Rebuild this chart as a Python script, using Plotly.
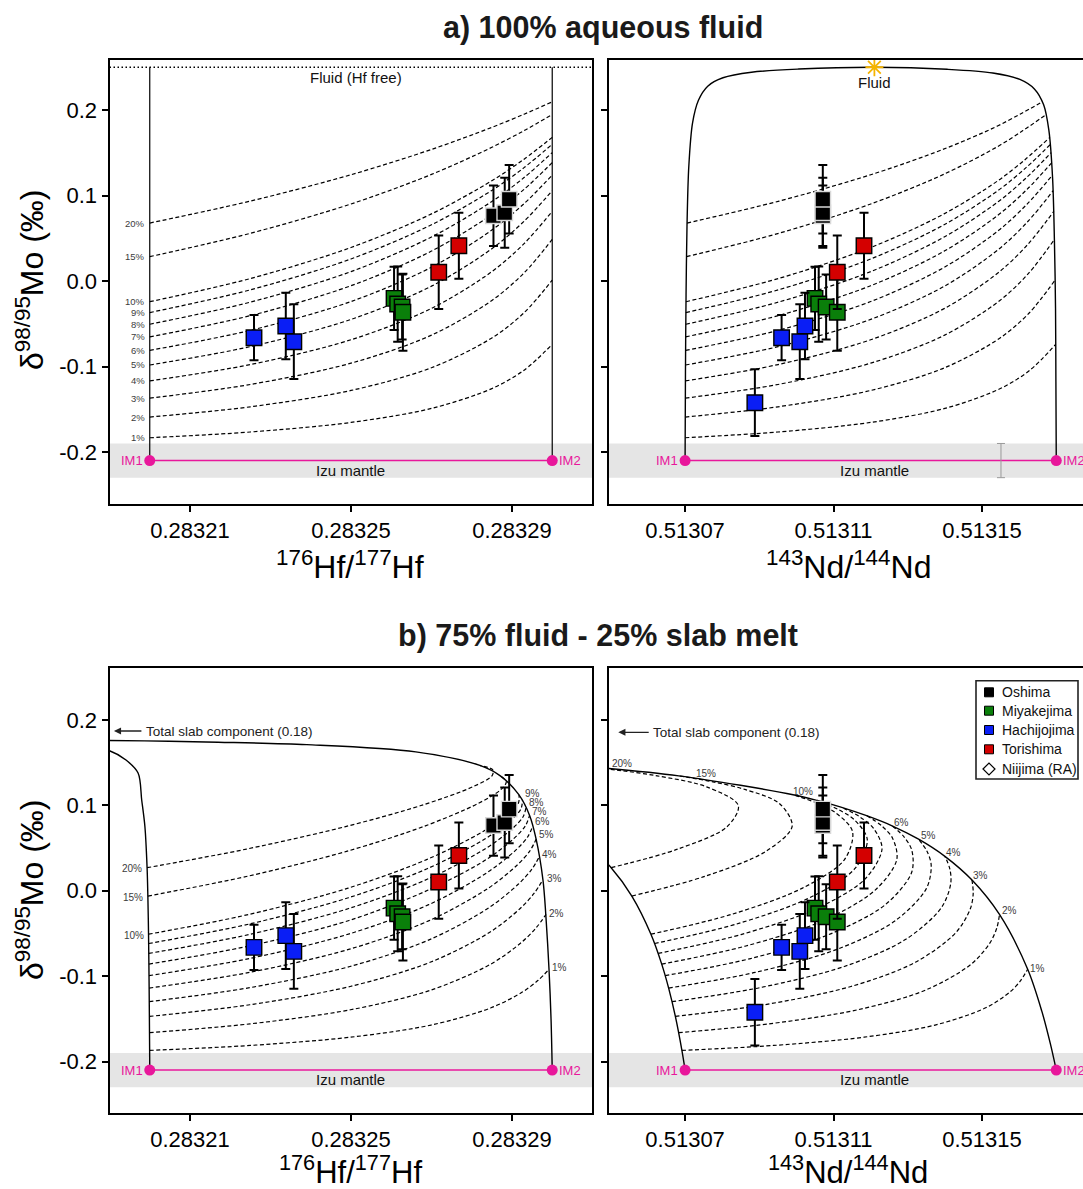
import plotly.graph_objects as go

FONT = "Liberation Sans, Arial, Helvetica, sans-serif"
MAG = "#E8179B"
W, H = 1083, 1189

PCT = ["1%", "2%", "3%", "4%", "5%", "6%", "7%", "8%", "9%", "10%", "15%", "20%"]

# ---------------- end-members ----------------
IM_HF = [0.28320, 0.28330]
IM_ND = [0.51307, 0.51317]
IM_MO = [-0.21, -0.21]
MANTLE_BAND = [-0.23, -0.19]
FLUID_MO = 0.25
FLUID_ND = 0.513121
MANTLE_ERR_ND = 0.5131551
MANTLE_ERR = 0.02

# ---------------- samples ----------------
OSHIMA_HF = [0.2832854, 0.2832882, 0.2832893]
OSHIMA_ND = [0.5131071, 0.5131071, 0.5131071]
OSHIMA_MO = [0.0764, 0.0799, 0.0956]
OSHIMA_ERR = [0.0353, 0.0410, 0.0401]

MIYAKE_HF = [0.2832607, 0.2832616, 0.2832627, 0.2832629]
MIYAKE_ND = [0.5131050, 0.5131060, 0.5131080, 0.5131110]
MIYAKE_MO = [-0.0203, -0.0269, -0.0304, -0.0366]
MIYAKE_ERR = [0.0370, 0.0440, 0.0380, 0.0450]

HACHI_HF = [0.2832259, 0.2832338, 0.2832358, None]
HACHI_ND = [0.5130960, 0.5131023, 0.5131009, 0.5130888]
HACHI_MO = [-0.0663, -0.0526, -0.0710, -0.1423]
HACHI_ERR = [0.0265, 0.0390, 0.0437, 0.0390]

TORI_HF = [0.2832718, 0.2832768]
TORI_ND = [0.5131110, 0.5131182]
TORI_MO = [0.0102, 0.0413]
TORI_ERR = [0.0429, 0.0386]

# ---------------- a) 100% fluid : Hf panel ----------------
A_HF_X = [0.28320, 0.283225, 0.28325, 0.28327, 0.283285, 0.283293, 0.28330]
A_MO = [
    [-0.1833, -0.1766, -0.1654, -0.1490, -0.1258, -0.1043, -0.0741],
    [-0.1591, -0.1471, -0.1280, -0.1014, -0.0666, -0.0371, 0.0010],
    [-0.1370, -0.1210, -0.0961, -0.0633, -0.0228, 0.0095, 0.0486],
    [-0.1168, -0.0977, -0.0687, -0.0320, 0.0110, 0.0437, 0.0815],
    [-0.0982, -0.0767, -0.0449, -0.0060, 0.0378, 0.0699, 0.1056],
    [-0.0811, -0.0577, -0.0240, 0.0161, 0.0596, 0.0905, 0.1239],
    [-0.0653, -0.0405, -0.0055, 0.0350, 0.0777, 0.1072, 0.1385],
    [-0.0506, -0.0247, 0.0110, 0.0515, 0.0930, 0.1210, 0.1502],
    [-0.0369, -0.0103, 0.0258, 0.0658, 0.1060, 0.1326, 0.1599],
    [-0.0242, 0.0029, 0.0392, 0.0785, 0.1173, 0.1425, 0.1680],
    [0.0285, 0.0558, 0.0901, 0.1247, 0.1564, 0.1759, 0.1948],
    [0.0678, 0.0935, 0.1243, 0.1539, 0.1797, 0.1951, 0.2096],
]

# ---------------- a) 100% fluid : Nd panel ----------------
A_ND_X = [
    [0.51307002, 0.51309501, 0.51312, 0.51313998, 0.51315493, 0.51316288, 0.51316984],
    [0.51307004, 0.51309503, 0.51312, 0.51313995, 0.51315486, 0.51316276, 0.51316967],
    [0.51307007, 0.51309504, 0.51312, 0.51313993, 0.5131548, 0.51316264, 0.5131695],
    [0.51307009, 0.51309506, 0.51312, 0.51313991, 0.51315472, 0.51316251, 0.51316934],
    [0.51307011, 0.51309507, 0.51312, 0.51313988, 0.51315465, 0.51316239, 0.51316916],
    [0.51307014, 0.51309509, 0.51312001, 0.51313986, 0.51315458, 0.51316226, 0.51316899],
    [0.51307016, 0.5130951, 0.51312001, 0.51313983, 0.5131545, 0.51316213, 0.51316881],
    [0.51307019, 0.51309512, 0.51312001, 0.51313981, 0.51315443, 0.51316199, 0.51316863],
    [0.51307021, 0.51309514, 0.51312001, 0.51313978, 0.51315435, 0.51316186, 0.51316845],
    [0.51307024, 0.51309515, 0.51312001, 0.51313976, 0.51315428, 0.51316172, 0.51316827],
    [0.51307038, 0.51309524, 0.51312001, 0.51313962, 0.51315386, 0.51316101, 0.5131673],
    [0.51307053, 0.51309534, 0.51312002, 0.51313946, 0.51315341, 0.51316023, 0.51316627],
]
A_ND_ENV_X = [0.51307, 0.5130701, 0.51307026, 0.51307051, 0.5130710, 0.5130720, 0.5130736,
              0.5130761, 0.5130802, 0.5130879, 0.5131006, 0.513121, 0.5131406, 0.5131529,
              0.5131602, 0.5131641, 0.5131666, 0.513168, 0.513169, 0.5131695, 0.5131698,
              0.5131699, 0.51317]
A_ND_ENV_Y = [-0.21, -0.1065, -0.0161, 0.0634, 0.1339, 0.1847, 0.2114, 0.2279, 0.2377, 0.2442,
              0.2479, 0.25, 0.2476, 0.2433, 0.2358, 0.2247, 0.2061, 0.1764, 0.1211, 0.0474,
              -0.0318, -0.1175, -0.21]

# ---------------- b) 75% fluid - 25% melt ----------------
B_MO = [
    [-0.1870, -0.1812, -0.1715, -0.1573, -0.1371, -0.1184, -0.1049, -0.0919],
    [-0.1662, -0.1559, -0.1394, -0.1165, -0.0863, -0.0607, -0.0435, -0.0277],
    [-0.1472, -0.1335, -0.1121, -0.0838, -0.0489, -0.0211, -0.0032, 0.0126],
    [-0.1299, -0.1135, -0.0887, -0.0572, -0.0202, 0.0079, 0.0253, 0.0403],
    [-0.1140, -0.0956, -0.0684, -0.0350, 0.0025, 0.0299, 0.0465, 0.0605],
    [-0.0994, -0.0794, -0.0505, -0.0163, 0.0210, 0.0473, 0.0629, 0.0759],
    [-0.0859, -0.0647, -0.0348, 0.0008, 0.0362, 0.0613, 0.0759, 0.0879],
    [-0.0734, -0.0513, -0.0208, 0.0137, 0.0490, 0.0729, 0.0866, 0.0977],
    [-0.0618, -0.0391, -0.0082, 0.0258, 0.0600, 0.0826, 0.0954, 0.1058],
    [-0.0509, -0.0278, 0.0031, 0.0365, 0.0694, 0.0909, 0.1029, 0.1125],
    [-0.0062, 0.0170, 0.0461, 0.0754, 0.1022, 0.1187, 0.1276, 0.1346],
    [0.0270, 0.0488, 0.0749, 0.0998, 0.1217, 0.1346, 0.1415, 0.1468],
]
B_HF_X = [
    [0.28319997, 0.28322496, 0.28324993, 0.28326989, 0.2832848, 0.28329266, 0.2832965, 0.28329923],
    [0.28319994, 0.28322492, 0.28324987, 0.28326977, 0.28328459, 0.28329231, 0.28329599, 0.28329845],
    [0.28319991, 0.28322487, 0.2832498, 0.28326966, 0.28328438, 0.28329196, 0.28329547, 0.28329765],
    [0.28319988, 0.28322483, 0.28324973, 0.28326954, 0.28328417, 0.28329161, 0.28329494, 0.28329685],
    [0.28319985, 0.28322479, 0.28324966, 0.28326942, 0.28328395, 0.28329124, 0.28329441, 0.28329603],
    [0.28319982, 0.28322474, 0.28324958, 0.2832693, 0.28328373, 0.28329087, 0.28329387, 0.2832952],
    [0.28319979, 0.2832247, 0.28324951, 0.28326918, 0.2832835, 0.2832905, 0.28329331, 0.28329435],
    [0.28319976, 0.28322465, 0.28324944, 0.28326905, 0.28328328, 0.28329012, 0.28329276, 0.2832935],
    [0.28319973, 0.2832246, 0.28324936, 0.28326892, 0.28328304, 0.28328973, 0.28329218, 0.28329262],
    [0.2831997, 0.28322456, 0.28324928, 0.28326879, 0.28328281, 0.28328934, 0.28329161, 0.28329174],
    [0.28319953, 0.28322431, 0.28324888, 0.28326812, 0.28328158, 0.28328729, 0.28328858, 0.2832871],
    [0.28319934, 0.28322403, 0.28324844, 0.28326737, 0.28328023, 0.28328503, 0.28328525, 0.283282],
]
B_HF_ENV_LEFT_X = [0.2832, 0.28319997, 0.28319985, 0.2831997, 0.28319953, 0.28319934, 0.2831988,
                   0.283198, 0.2831971, 0.2831941, 0.28319, 0.28318]
B_HF_ENV_LEFT_Y = [-0.21, -0.1870, -0.1140, -0.0509, -0.0062, 0.0270, 0.0750, 0.1063, 0.1379,
                   0.1531, 0.1640, 0.1723]
B_HF_ENV_TOP_X = [0.2833, 0.2832997, 0.2832992, 0.2832984, 0.2832977, 0.283296, 0.2832944,
                  0.2832917, 0.2832871, 0.283282, 0.2832661, 0.283239, 0.283217, 0.2831987, 0.28317]
B_HF_ENV_TOP_Y = [-0.21, -0.15, -0.0919, -0.0278, 0.0125, 0.0604, 0.0879, 0.1125, 0.1346, 0.1468,
                  0.1627, 0.1711, 0.1740, 0.1755, 0.1770]
B_HF_RLAB_TEXT = ["9%", "8%", "7%", "6%", "5%", "4%", "3%", "2%", "1%"]
B_HF_RLAB_X = [0.2832927, 0.2832937, 0.2832945, 0.2832952, 0.2832962, 0.283297, 0.2832982,
               0.2832987, 0.2832994]
B_HF_RLAB_Y = [0.1142, 0.1037, 0.0928, 0.0814, 0.0655, 0.0419, 0.0146, -0.0264, -0.0896]

B_ND_X = [
    [0.51306914, 0.51309381, 0.51311824, 0.51313736, 0.51315099, 0.51315757, 0.51316045, 0.51316228],
    [0.51306826, 0.51309261, 0.51311647, 0.5131347, 0.51314698, 0.51315218, 0.51315399, 0.51315471],
    [0.51306738, 0.51309139, 0.51311468, 0.51313204, 0.51314297, 0.51314684, 0.51314762, 0.51314728],
    [0.51306648, 0.51309016, 0.51311287, 0.51312935, 0.51313898, 0.51314155, 0.51314134, 0.51314],
    [0.51306557, 0.5130889, 0.51311104, 0.51312665, 0.51313499, 0.5131363, 0.51313514, 0.51313286],
    [0.51306464, 0.51308764, 0.5131092, 0.51312394, 0.513131, 0.51313109, 0.51312903, 0.51312585],
    [0.5130637, 0.51308636, 0.51310733, 0.51312121, 0.51312702, 0.51312593, 0.513123, 0.51311897],
    [0.51306275, 0.51308506, 0.51310545, 0.51311847, 0.51312305, 0.5131208, 0.51311705, 0.51311222],
    [0.51306178, 0.51308374, 0.51310355, 0.51311571, 0.51311908, 0.51311572, 0.51311118, 0.5131056],
    [0.5130608, 0.5130824, 0.51310163, 0.51311294, 0.51311511, 0.51311068, 0.51310538, 0.51309909],
    [0.51305565, 0.51307545, 0.51309172, 0.51309884, 0.51309538, 0.51308609, 0.51307751, 0.51306826],
    [0.51305008, 0.51306801, 0.51308128, 0.51308434, 0.51307579, 0.51306245, 0.51305137, 0.51304],
]
B_ND_ENV_LEFT_X = [0.51307, 0.51306914, 0.51306738, 0.51306557, 0.5130637, 0.5130608, 0.51305565,
                   0.51305008, 0.5130429]
B_ND_ENV_LEFT_Y = [-0.21, -0.1870, -0.1472, -0.1140, -0.0859, -0.0509, -0.0062, 0.0270, 0.0570]
B_ND_ENV_TOP_X = [0.51317, 0.5131684, 0.5131661, 0.5131623, 0.5131547, 0.5131473, 0.51314,
                  0.5131329, 0.5131259, 0.5131189, 0.5131122, 0.5131056, 0.5130991, 0.5130683,
                  0.51304, 0.5130094]
B_ND_ENV_TOP_Y = [-0.21, -0.1791, -0.1410, -0.0919, -0.0278, 0.0125, 0.0403, 0.0604, 0.0758,
                  0.0879, 0.0977, 0.1058, 0.1125, 0.1346, 0.1468, 0.1557]
B_ND_LAB_TEXT = ["20%", "15%", "10%", "6%", "5%", "4%", "3%", "2%", "1%"]
B_ND_LAB_X = [0.513053, 0.5130757, 0.5131017, 0.5131284, 0.5131355, 0.5131423, 0.5131495,
              0.5131573, 0.513165]
B_ND_LAB_Y = [0.1496, 0.1379, 0.1168, 0.0802, 0.0653, 0.0446, 0.0173, -0.0237, -0.0908]

SLAB_TEXT = "Total slab component (0.18)"
SLAB_ARROW_HF = [0.2831911, 0.2831983, 0.1871]
SLAB_ARROW_ND = [0.513052, 0.5130606, 0.1856]

GROUPS = [
    ("Oshima", "#000000", OSHIMA_HF, OSHIMA_ND, OSHIMA_MO, OSHIMA_ERR),
    ("Miyakejima", "#0a7f0a", MIYAKE_HF, MIYAKE_ND, MIYAKE_MO, MIYAKE_ERR),
    ("Hachijojima", "#0a1ef5", HACHI_HF, HACHI_ND, HACHI_MO, HACHI_ERR),
    ("Torishima", "#d40000", TORI_HF, TORI_ND, TORI_MO, TORI_ERR),
]

# ---------------- figure ----------------
fig = go.Figure()
DASH = "4px,2.5px"


def line(xs, ys, xa, ya, dash=None, width=1.2, color="black", spline=True):
    fig.add_trace(go.Scatter(
        x=xs, y=ys, mode="lines", xaxis=xa, yaxis=ya, showlegend=False, hoverinfo="skip",
        line=dict(color=color, width=width, dash=dash or "solid",
                  shape="spline" if spline else "linear", smoothing=0.9)))


def mantle(xa, ya, im):
    fig.add_trace(go.Scatter(
        x=im, y=IM_MO, mode="lines+markers", xaxis=xa, yaxis=ya, showlegend=False,
        hoverinfo="skip", line=dict(color=MAG, width=1.6),
        marker=dict(color=MAG, size=11, symbol="circle")))


def samples(xa, ya, which):
    for name, col, hf, nd, mo, err in GROUPS:
        xs = hf if which == "hf" else nd
        fig.add_trace(go.Scatter(
            x=xs, y=mo, mode="markers", xaxis=xa, yaxis=ya, showlegend=False, name=name,
            marker=dict(symbol="square", size=15.5, color=col,
                        line=dict(color="#d8d8d8" if col == "#000000" else "black", width=1.4)),
            error_y=dict(type="data", array=err, visible=True, color="black",
                         thickness=2, width=4.5)))


# Panel a) Hf  (x, y)
for ys in A_MO:
    line(A_HF_X, ys, "x", "y", dash=DASH)
line([IM_HF[0], IM_HF[0]], [IM_MO[0], FLUID_MO], "x", "y", width=1.2, spline=False)
line([IM_HF[1], IM_HF[1]], [IM_MO[1], FLUID_MO], "x", "y", width=1.2, spline=False)
mantle("x", "y", IM_HF)
samples("x", "y", "hf")

# Panel a) Nd  (x2, y2)
for xs, ys in zip(A_ND_X, A_MO):
    line(xs, ys, "x2", "y2", dash=DASH)
line(A_ND_ENV_X, A_ND_ENV_Y, "x2", "y2", width=1.4)
mantle("x2", "y2", IM_ND)
fig.add_trace(go.Scatter(
    x=[MANTLE_ERR_ND], y=[IM_MO[0]], mode="markers", xaxis="x2", yaxis="y2",
    showlegend=False, hoverinfo="skip", marker=dict(size=1, color="rgba(0,0,0,0)"),
    error_y=dict(type="data", array=[MANTLE_ERR], color="#9a9a9a", thickness=1, width=4)))
samples("x2", "y2", "nd")
fig.add_trace(go.Scatter(
    x=[FLUID_ND], y=[FLUID_MO], mode="markers", xaxis="x2", yaxis="y2", showlegend=False,
    hoverinfo="skip", cliponaxis=False,
    marker=dict(symbol="asterisk-open", size=15, color="#F5B400",
                line=dict(color="#F5B400", width=1.8))))

# Panel b) Hf  (x3, y3)
for xs, ys in zip(B_HF_X, B_MO):
    line(xs, ys, "x3", "y3", dash=DASH)
line(B_HF_ENV_LEFT_X, B_HF_ENV_LEFT_Y, "x3", "y3", width=1.4)
line(B_HF_ENV_TOP_X, B_HF_ENV_TOP_Y, "x3", "y3", width=1.4)
mantle("x3", "y3", IM_HF)
samples("x3", "y3", "hf")

# Panel b) Nd  (x4, y4)
for xs, ys in zip(B_ND_X, B_MO):
    line(xs, ys, "x4", "y4", dash=DASH)
line(B_ND_ENV_LEFT_X, B_ND_ENV_LEFT_Y, "x4", "y4", width=1.4)
line(B_ND_ENV_TOP_X, B_ND_ENV_TOP_Y, "x4", "y4", width=1.4)
mantle("x4", "y4", IM_ND)
samples("x4", "y4", "nd")

# ---------------- axes ----------------
XD_L = [109.5 / W, 592 / W]
XD_R = [609 / W, 1.0]
YD_T = [1 - 504 / H, 1 - 60 / H]
YD_B = [1 - 1113 / H, 1 - 668 / H]
HF_RANGE = [0.28319, 0.28330988]
ND_RANGE = [0.5130495, 0.5131772]
YR_T = [-0.2608, 0.2585]
YR_B = [-0.2603, 0.2609]
HF_TICKS = [0.28321, 0.28325, 0.28329]
ND_TICKS = [0.51307, 0.51311, 0.51315]
MO_TICKS = [-0.2, -0.1, 0.0, 0.1, 0.2]
MO_TEXT = ["-0.2", "-0.1", "0.0", "0.1", "0.2"]

common = dict(showline=True, linecolor="black", linewidth=2, ticks="outside", ticklen=6,
              tickwidth=2, tickcolor="black", showgrid=False, zeroline=False,
              tickfont=dict(size=22, family=FONT, color="black"))


def xax(dom, rng, vals, anchor):
    return dict(domain=dom, range=rng, tickvals=vals, ticktext=[f"{v:.5f}" for v in vals],
                anchor=anchor, mirror=True, **common)


def yax(dom, rng, anchor, labels, mirror):
    return dict(domain=dom, range=rng, tickvals=MO_TICKS, ticktext=MO_TEXT, anchor=anchor,
                showticklabels=labels, mirror=mirror, **common)


fig.update_layout(
    width=W, height=H, margin=dict(l=0, r=0, t=0, b=0), autosize=False,
    paper_bgcolor="white", plot_bgcolor="white", showlegend=False,
    font=dict(family=FONT, color="black"),
    xaxis=xax(XD_L, HF_RANGE, HF_TICKS, "y"),
    yaxis=yax(YD_T, YR_T, "x", True, True),
    xaxis2=xax(XD_R, ND_RANGE, ND_TICKS, "y2"),
    yaxis2=yax(YD_T, YR_T, "x2", False, False),
    xaxis3=xax(XD_L, HF_RANGE, HF_TICKS, "y3"),
    yaxis3=yax(YD_B, YR_B, "x3", True, True),
    xaxis4=xax(XD_R, ND_RANGE, ND_TICKS, "y4"),
    yaxis4=yax(YD_B, YR_B, "x4", False, False),
)

# ---------------- shapes ----------------
shapes = []
for xr, yr in [("x", "y"), ("x2", "y2"), ("x3", "y3"), ("x4", "y4")]:
    shapes.append(dict(type="rect", xref=f"{xr} domain", yref=yr, x0=0, x1=1,
                       y0=MANTLE_BAND[0], y1=MANTLE_BAND[1], fillcolor="#e5e5e5",
                       line=dict(width=0), layer="below"))
shapes.append(dict(type="line", xref="x domain", yref="y", x0=0, x1=1, y0=FLUID_MO, y1=FLUID_MO,
                   line=dict(color="black", width=1.3, dash="1.5px,2.5px")))

# legend (manual)
LEG_NAMES = ["Oshima", "Miyakejima", "Hachijojima", "Torishima", "Niijima (RA)"]
LEG_COLORS = ["#000000", "#0a7f0a", "#0a1ef5", "#d40000", None]
LEG_Y = [692.3, 710.7, 730.0, 749.3, 769.0]
shapes.append(dict(type="rect", xref="paper", yref="paper", x0=976 / W, x1=1078 / W,
                   y0=1 - 779 / H, y1=1 - 680.7 / H, fillcolor="white",
                   line=dict(color="#222", width=1.6)))
annotations = []
for nm, col, py in zip(LEG_NAMES, LEG_COLORS, LEG_Y):
    if col:
        shapes.append(dict(type="rect", xref="paper", yref="paper", x0=984.5 / W, x1=993.5 / W,
                           y0=1 - (py + 4.5) / H, y1=1 - (py - 4.5) / H, fillcolor=col,
                           line=dict(color="black", width=1)))
    else:
        cx, cy, r = 989, py, 6
        path = (f"M {(cx - r) / W} {1 - cy / H} L {cx / W} {1 - (cy - r) / H} "
                f"L {(cx + r) / W} {1 - cy / H} L {cx / W} {1 - (cy + r) / H} Z")
        shapes.append(dict(type="path", xref="paper", yref="paper", path=path,
                           fillcolor="white", line=dict(color="black", width=1.2)))
    annotations.append(dict(text=nm, x=1000 / W, y=1 - py / H, xref="paper", yref="paper",
                            xanchor="left", yanchor="middle", showarrow=False,
                            font=dict(size=14, family=FONT, color="#111")))


def ann(text, x, y, xref, yref, size, color="black", xanchor="center", yanchor="middle",
        xshift=0, yshift=0, angle=0):
    annotations.append(dict(text=text, x=x, y=y, xref=xref, yref=yref, showarrow=False,
                            xanchor=xanchor, yanchor=yanchor, xshift=xshift, yshift=yshift,
                            textangle=angle, font=dict(size=size, family=FONT, color=color)))


# titles
ann("<b>a) 100% aqueous fluid</b>", 603 / W, 1 - 27 / H, "paper", "paper", 30.5, "#1a1a1a")
ann("<b>b) 75% fluid - 25% slab melt</b>", 598 / W, 1 - 636 / H, "paper", "paper", 30.5, "#1a1a1a")
for yc in [280, 890]:
    ann("δ<sup>98/95</sup>Mo (‰)", 30 / W, 1 - yc / H, "paper", "paper", 32, angle=-90)
for yc, fs in [(565, 32), (1170, 31)]:
    ann("<sup>176</sup>Hf/<sup>177</sup>Hf", 350 / W, 1 - yc / H, "paper", "paper", fs)
    ann("<sup>143</sup>Nd/<sup>144</sup>Nd", 848 / W, 1 - yc / H, "paper", "paper", fs)

# mantle labels
for xr, yr, im, ydy in [("x", "y", IM_HF, -0.2211), ("x2", "y2", IM_ND, -0.2211),
                        ("x3", "y3", IM_HF, -0.2209), ("x4", "y4", IM_ND, -0.2215)]:
    ann("IM1", im[0], IM_MO[0], xr, yr, 13, MAG, xanchor="right", xshift=-5)
    ann("IM2", im[1], IM_MO[1], xr, yr, 13, MAG, xanchor="left", xshift=5)
    ann("Izu mantle", (im[0] + im[1]) / 2 + (0.0000011 if xr in ("x2", "x4") else 0.0), ydy,
        xr, yr, 15, "#111")

ann("Fluid (Hf free)", 0.2832512, 0.2386, "x", "y", 15, "#111")
ann("Fluid", FLUID_ND, 0.2327, "x2", "y2", 15, "#111")

# percent labels
for lab, ys in zip(PCT, A_MO):
    ann(lab, IM_HF[0], ys[0], "x", "y", 9.5, "#3c3c3c", xanchor="right", xshift=-3)
for lab, xs, ys in zip(PCT[9:], B_HF_X[9:], B_MO[9:]):
    ann(lab, xs[0], ys[0], "x3", "y3", 10, "#3c3c3c", xanchor="right", xshift=-3, yshift=-1)
for lab, x, y in zip(B_HF_RLAB_TEXT, B_HF_RLAB_X, B_HF_RLAB_Y):
    ann(lab, x, y, "x3", "y3", 10, "#3c3c3c", xanchor="left")
for lab, x, y in zip(B_ND_LAB_TEXT, B_ND_LAB_X, B_ND_LAB_Y):
    ann(lab, x, y, "x4", "y4", 10, "#3c3c3c")

# slab arrows
for xr, yr, arr in [("x3", "y3", SLAB_ARROW_HF), ("x4", "y4", SLAB_ARROW_ND)]:
    annotations.append(dict(x=arr[0], y=arr[2], ax=arr[1], ay=arr[2], xref=xr, yref=yr,
                            axref=xr, ayref=yr, text="", showarrow=True, arrowhead=2,
                            arrowsize=1.1, arrowwidth=1.3, arrowcolor="#222"))
    ann(SLAB_TEXT, arr[1], arr[2], xr, yr, 13.5, "#222", xanchor="left", xshift=1)

fig.update_layout(shapes=shapes, annotations=annotations)
fig.write_html("out.html", config={"displayModeBar": False})
